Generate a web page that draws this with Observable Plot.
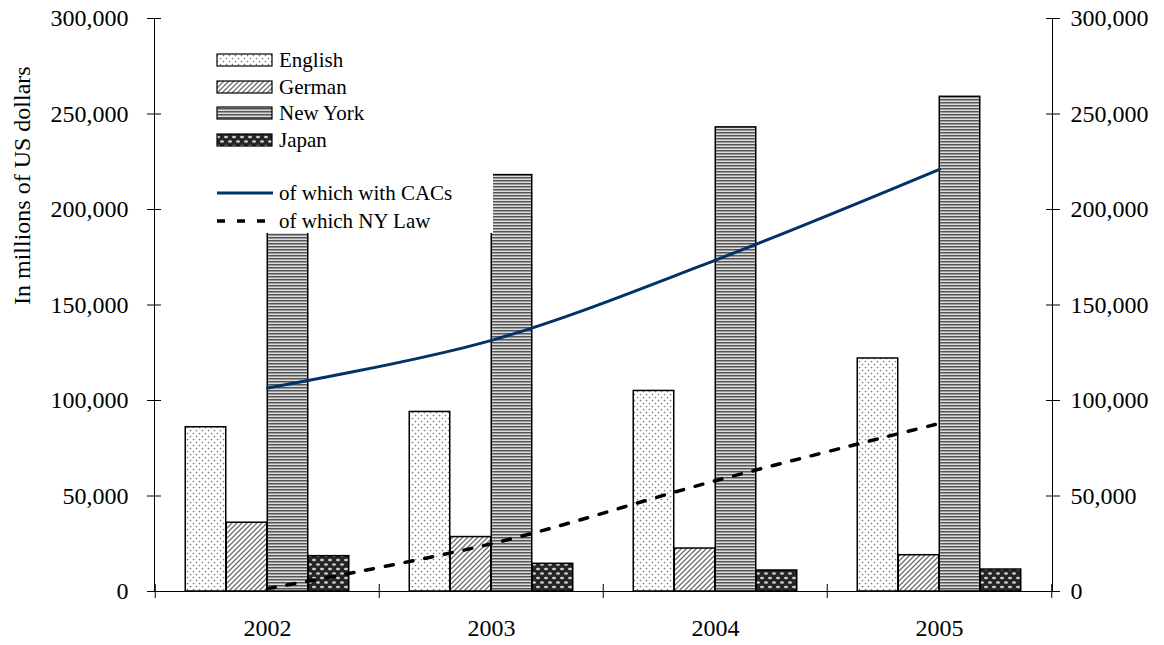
<!DOCTYPE html>
<html>
<head>
<meta charset="utf-8">
<script src="https://cdn.jsdelivr.net/npm/d3@7"></script>
<script src="https://cdn.jsdelivr.net/npm/@observablehq/plot@0.6"></script>
<style>
  body { margin: 0; background: #fff; }
  #chart { width: 1164px; height: 645px; }
</style>
</head>
<body>
<div id="chart"></div>
<script>
// ---- data ----
const years = ["2002", "2003", "2004", "2005"];
const series = ["English", "German", "New York", "Japan"];
const english = [86000, 94000, 105000, 122000];
const german = [36000, 28500, 22500, 19000];
const newYork = [195000, 218000, 243000, 259000];
const japan = [18500, 14500, 11000, 11500];
const withCACs = [106500, 131500, 173500, 221000];
const nyLaw = [1500, 25000, 58000, 88000];
const lineNames = ["of which with CACs", "of which NY Law"];
const yTicks = [0, 50000, 100000, 150000, 200000, 250000, 300000];
const yLabel = "In millions of US dollars";

const seriesValues = [english, german, newYork, japan];

// ---- layout ----
const W = 1164, H = 645;
const mL = 154, mR = 112, mT = 18, mB = 54;
const bw = (W - mL - mR) / years.length;
const barW = 41;
const off = (bw - series.length * barW) / 2;
const fmt = d3.format(",");
const FONT = "'Liberation Serif', 'Times New Roman', serif";

const barMarks = series.map((s, k) =>
  Plot.barY(years.map((yr, i) => ({year: yr, v: seriesValues[k][i]})), {
    x: "year", y: "v",
    fill: `url(#pat${k})`, stroke: "black", strokeWidth: 1.5,
    insetLeft: off + k * barW, insetRight: bw - off - (k + 1) * barW
  })
);

const plot = Plot.plot({
  width: W, height: H,
  marginLeft: mL, marginRight: mR, marginTop: mT, marginBottom: mB,
  style: {fontFamily: FONT, background: "white", color: "black", overflow: "visible"},
  x: {type: "band", domain: years, padding: 0, label: null},
  y: {domain: [0, 300000], label: null},
  marks: [
    ...barMarks,
    Plot.frame({anchor: "left", stroke: "black", strokeWidth: 1}),
    Plot.frame({anchor: "right", stroke: "black", strokeWidth: 1}),
    Plot.frame({anchor: "bottom", stroke: "black", strokeWidth: 1}),
    Plot.axisY({anchor: "left", ticks: yTicks, tickSize: 14, dx: 7, tickFormat: () => ""}),
    Plot.axisY({anchor: "left", ticks: yTicks, tickSize: 0, tickPadding: 26, tickFormat: fmt, fontSize: 24}),
    Plot.axisY({anchor: "right", ticks: yTicks, tickSize: 14, dx: -7, tickFormat: () => ""}),
    Plot.axisY({anchor: "right", ticks: yTicks, tickSize: 0, tickPadding: 18, tickFormat: fmt, fontSize: 24}),
    Plot.axisX({ticks: years, tickSize: 14, dy: -7, dx: -bw / 2, tickFormat: () => ""}),
    Plot.axisX({ticks: [years[years.length - 1]], tickSize: 14, dy: -7, dx: bw / 2, tickFormat: () => ""}),
    Plot.axisX({ticks: years, tickSize: 0, tickPadding: 27, fontSize: 24}),
    Plot.text([yLabel], {frameAnchor: "left", text: d => d, rotate: -90, dx: -132, fontSize: 24, lineAnchor: "middle"}),
    Plot.line(years.map((yr, i) => ({year: yr, v: withCACs[i]})), {
      x: "year", y: "v", stroke: "#003366", strokeWidth: 3, curve: "catmull-rom"
    }),
    Plot.line(years.map((yr, i) => ({year: yr, v: nyLaw[i]})), {
      x: "year", y: "v", stroke: "black", strokeWidth: 3.5, strokeDasharray: "8,12", curve: "catmull-rom"
    })
  ]
});

document.getElementById("chart").append(plot);

// ---- patterns ----
const svg = d3.select(plot);
const defs = svg.insert("defs", ":first-child");
// English: dots
const p0 = defs.append("pattern").attr("id", "pat0").attr("patternUnits", "userSpaceOnUse").attr("width", 6).attr("height", 6);
p0.append("rect").attr("width", 6).attr("height", 6).attr("fill", "white");
p0.append("circle").attr("cx", 1.5).attr("cy", 1.5).attr("r", 0.85).attr("fill", "#7a7a7a");
p0.append("circle").attr("cx", 4.5).attr("cy", 4.5).attr("r", 0.85).attr("fill", "#7a7a7a");
// German: diagonal hatch
const p1 = defs.append("pattern").attr("id", "pat1").attr("patternUnits", "userSpaceOnUse").attr("width", 5).attr("height", 5);
p1.append("rect").attr("width", 5).attr("height", 5).attr("fill", "white");
p1.append("path").attr("d", "M0,5L5,0M-1,1L1,-1M4,6L6,4").attr("stroke", "#6e6e6e").attr("stroke-width", 1.3);
// New York: horizontal stripes
const p2 = defs.append("pattern").attr("id", "pat2").attr("patternUnits", "userSpaceOnUse").attr("width", 4).attr("height", 3);
p2.append("rect").attr("y", 0).attr("width", 4).attr("height", 1).attr("fill", "#555");
p2.append("rect").attr("y", 1).attr("width", 4).attr("height", 1).attr("fill", "#999");
p2.append("rect").attr("y", 2).attr("width", 4).attr("height", 1).attr("fill", "#dcdcdc");
// Japan: dark with light ovals
const p3 = defs.append("pattern").attr("id", "pat3").attr("patternUnits", "userSpaceOnUse").attr("width", 8).attr("height", 9);
p3.append("rect").attr("width", 8).attr("height", 9).attr("fill", "#262626");
p3.append("ellipse").attr("cx", 2).attr("cy", 2).attr("rx", 2).attr("ry", 1.3).attr("fill", "#cfcfcf");
p3.append("ellipse").attr("cx", 6).attr("cy", 6.5).attr("rx", 2).attr("ry", 1.3).attr("fill", "#cfcfcf");

// ---- legend ----
const lg = svg.append("g").attr("font-family", FONT).attr("font-size", 21).attr("text-anchor", "start");
lg.append("rect").attr("x", 205).attr("y", 35).attr("width", 288).attr("height", 198).attr("fill", "white");
const rowY = [60, 87, 113, 140];
series.forEach((s, k) => {
  lg.append("rect").attr("x", 217).attr("y", rowY[k] - 6).attr("width", 55).attr("height", 12)
    .attr("fill", `url(#pat${k})`).attr("stroke", "black").attr("stroke-width", 1.2);
  lg.append("text").attr("x", 279).attr("y", rowY[k]).attr("dy", "0.35em").text(s);
});
const lineY = [193, 221];
const lineStyles = [{stroke: "#003366", dash: null, w: 3}, {stroke: "black", dash: "8,12", w: 3.5}];
lineNames.forEach((n, k) => {
  lg.append("line").attr("x1", 217).attr("x2", 273).attr("y1", lineY[k]).attr("y2", lineY[k])
    .attr("stroke", lineStyles[k].stroke).attr("stroke-width", lineStyles[k].w)
    .attr("stroke-dasharray", lineStyles[k].dash);
  lg.append("text").attr("x", 279).attr("y", lineY[k]).attr("dy", "0.35em").text(n);
});
</script>
</body>
</html>
